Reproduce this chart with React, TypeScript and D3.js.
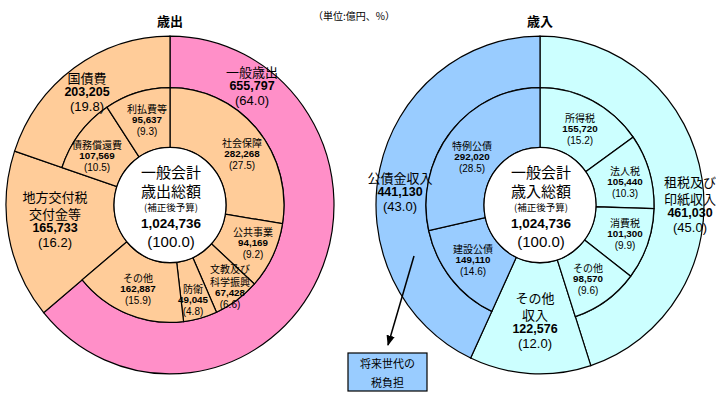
import React from 'react';
import * as d3 from 'd3';

// 歳出 (expenditure)
const expOuterNames = ['一般歳出', '地方交付税\n交付金等', '国債費'];
const expOuterValues = [655797, 165733, 203205];
const expOuterColors = ['#FF8FC8', '#FFCC99', '#FFCC99'];
const expInnerNames = ['社会保障', '公共事業', '文教及び\n科学振興', '防衛', 'その他', '地方交付税\n交付金等', '債務償還費', '利払費等'];
const expInnerValues = [282268, 94169, 67428, 49045, 162887, 165733, 107569, 95637];
const expFull = ['地方交付税\n交付金等'];

// 歳入 (revenue)
const revOuterNames = ['租税及び\n印紙収入', 'その他\n収入', '公債金収入'];
const revOuterValues = [461030, 122576, 441130];
const revOuterColors = ['#CCFFFF', '#CCFFFF', '#99CCFF'];
const revInnerNames = ['所得税', '法人税', '消費税', 'その他', 'その他\n収入', '建設公債', '特例公債'];
const revInnerValues = [155720, 105440, 101300, 98570, 122576, 149110, 292020];
const revInnerColors = ['#CCFFFF', '#CCFFFF', '#CCFFFF', '#CCFFFF', '#CCFFFF', '#99CCFF', '#99CCFF'];
const revFull = ['その他\n収入'];

const TOTAL = 1024736;

// label placement (center x, first line y), big = outer-ring style
const expLabelPos: Record<string, [number, number, boolean]> = {
  '一般歳出': [252, 71, true],
  '国債費': [87, 77, true],
  '地方交付税\n交付金等': [55, 196, true],
  '利払費等': [147, 108, false],
  '債務償還費': [97, 144, false],
  '社会保障': [242, 142, false],
  '公共事業': [253, 231, false],
  '文教及び\n科学振興': [230, 268, false],
  '防衛': [193, 288, false],
  'その他': [138, 277, false],
};
const revLabelPos: Record<string, [number, number, boolean]> = {
  '租税及び\n印紙収入': [690, 181, true],
  'その他\n収入': [535, 297, true],
  '公債金収入': [400, 177, true],
  '所得税': [580, 117, false],
  '法人税': [625, 170, false],
  '消費税': [625, 222, false],
  'その他': [588, 267, false],
  '建設公債': [473, 248, false],
  '特例公債': [472, 145, false],
};

const FONT = '"Noto Sans CJK JP", "Noto Sans", sans-serif';
const NUM = '"Liberation Sans", Arial, sans-serif';
const holeR = 56, midR = 114, outerR = 164, yScale = 1.03;

function Label({ name, value, x, y, big }: { name: string; value: number; x: number; y: number; big: boolean }) {
  const lines = name.split('\n');
  const fs = big ? 13 : 10;
  const nameGap = big ? 17 : 13;
  const lh = big ? 14.8 : 11.8;
  const numY = y + (lines.length - 1) * nameGap + lh;
  const pct = ((value / TOTAL) * 100).toFixed(1);
  return (
    <g textAnchor="middle" fill="#000">
      {lines.map((l, i) => (
        <text key={i} x={x} y={y + i * nameGap} fontFamily={FONT} fontSize={fs} dominantBaseline="central">{l}</text>
      ))}
      <text x={x} y={numY} fontFamily={NUM} fontSize={big ? 12.5 : 9.8} fontWeight="bold" dominantBaseline="central">
        {d3.format(',')(value)}
      </text>
      <text x={x} y={numY + lh} fontFamily={NUM} fontSize={big ? 13 : 10} dominantBaseline="central">({pct})</text>
    </g>
  );
}

function Donut({ cx, cy, outerNames, outerValues, outerColors, innerNames, innerValues, innerColors, full, labelPos, title2 }: any) {
  const pie = d3.pie<number>().sort(null).startAngle(0).endAngle(2 * Math.PI);
  const outerArcs = pie(outerValues);
  const innerArcs = pie(innerValues);
  const arc = d3.arc<any>();
  return (
    <g>
      <g transform={`translate(${cx},${cy}) scale(1,${yScale})`} stroke="#000" strokeWidth={1.2}>
        {outerArcs.map((a, i) => (
          <path key={'o' + i} fill={outerColors[i]}
            d={arc({ ...a, innerRadius: full.includes(outerNames[i]) ? holeR : midR, outerRadius: outerR }) as string} />
        ))}
        {innerArcs.map((a, i) => full.includes(innerNames[i]) ? null : (
          <path key={'i' + i} fill={innerColors[i]}
            d={arc({ ...a, innerRadius: holeR, outerRadius: midR }) as string} />
        ))}
        <circle r={holeR} fill="#fff" />
      </g>
      {outerNames.map((n: string, i: number) => labelPos[n] && (
        <Label key={'lo' + i} name={n} value={outerValues[i]} x={labelPos[n][0]} y={labelPos[n][1]} big={labelPos[n][2]} />
      ))}
      {innerNames.map((n: string, i: number) => !full.includes(n) && labelPos[n] && (
        <Label key={'li' + i} name={n} value={innerValues[i]} x={labelPos[n][0]} y={labelPos[n][1]} big={labelPos[n][2]} />
      ))}
      <g textAnchor="middle" fill="#000">
        <text x={cx + 1} y={171} fontFamily={FONT} fontSize={15} dominantBaseline="central">一般会計</text>
        <text x={cx + 1} y={190} fontFamily={FONT} fontSize={15} dominantBaseline="central">{title2}</text>
        <text x={cx + 1} y={207} fontFamily={FONT} fontSize={9.5} dominantBaseline="central">(補正後予算)</text>
        <text x={cx + 1} y={223} fontFamily={NUM} fontSize={13.5} fontWeight="bold" dominantBaseline="central">{d3.format(',')(TOTAL)}</text>
        <text x={cx + 1} y={241} fontFamily={NUM} fontSize={15} dominantBaseline="central">(100.0)</text>
      </g>
    </g>
  );
}

export default function App() {
  return (
    <div style={{ position: 'fixed', left: 0, top: 0, background: '#fff' }}>
      <svg width={716} height={395} style={{ display: 'block' }}>
        <defs>
          <marker id="arrow" viewBox="0 0 10 10" refX="9" refY="5" markerWidth="7" markerHeight="7" orient="auto">
            <path d="M0,1 L10,5 L0,9 Z" fill="#000" />
          </marker>
        </defs>
        <rect width={716} height={395} fill="#fff" />
        <g fontFamily={FONT} fill="#000">
          <text x={170} y={20} fontSize={13} fontWeight="bold" textAnchor="middle" dominantBaseline="central">歳出</text>
          <text x={540} y={20} fontSize={13} fontWeight="bold" textAnchor="middle" dominantBaseline="central">歳入</text>
          <text x={354} y={15} fontSize={10} textAnchor="middle" dominantBaseline="central">（単位:億円、%）</text>
        </g>
        <Donut cx={170} cy={205} outerNames={expOuterNames} outerValues={expOuterValues} outerColors={expOuterColors}
          innerNames={expInnerNames} innerValues={expInnerValues} innerColors={expInnerNames.map(() => '#FFCC99')}
          full={expFull} labelPos={expLabelPos} title2="歳出総額" />
        <Donut cx={540} cy={205} outerNames={revOuterNames} outerValues={revOuterValues} outerColors={revOuterColors}
          innerNames={revInnerNames} innerValues={revInnerValues} innerColors={revInnerColors}
          full={revFull} labelPos={revLabelPos} title2="歳入総額" />
        <line x1={414} y1={256} x2={388} y2={345} stroke="#000" strokeWidth={1.5} markerEnd="url(#arrow)" />
        <rect x={348} y={353} width={79} height={38} fill="#99CCFF" stroke="#000" strokeWidth={1.2} />
        <g fontFamily={FONT} fontSize={11} textAnchor="middle" fill="#000">
          <text x={387.5} y={363} dominantBaseline="central">将来世代の</text>
          <text x={387.5} y={382} dominantBaseline="central">税負担</text>
        </g>
      </svg>
    </div>
  );
}
